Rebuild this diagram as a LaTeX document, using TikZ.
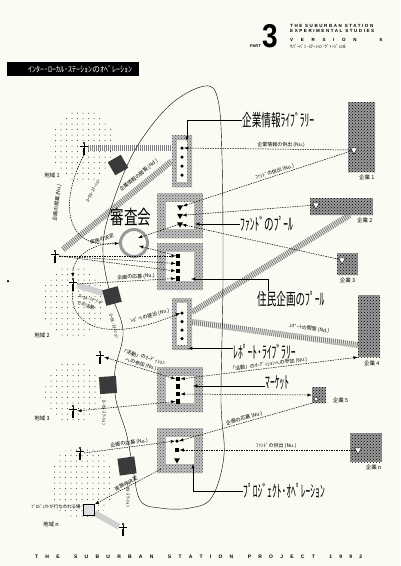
\documentclass[tikz,border=0pt]{standalone}
\usepackage{graphicx}
\usepackage{fontspec}
\setmainfont{Noto Sans CJK JP}
\newfontfamily\headfont{Liberation Sans}
\usetikzlibrary{shapes.geometric, arrows, positioning, patterns, calc}
\definecolor{paper}{HTML}{FBFAF3}
\definecolor{dgray}{HTML}{3A3A3A}
\definecolor{lgray}{HTML}{CFCFCF}
\newcommand{\cond}[1]{\scalebox{0.8}[1.4]{#1}}
\pgfdeclarelayer{back}
\pgfsetlayers{back,main}
\tikzstyle{frame} = [rectangle, inner sep=0pt, preaction={fill=black!25}, pattern=crosshatch dots, pattern color=black!70]
\tikzstyle{pool} = [frame, path picture={\fill[paper] ([shift={(9pt,9pt)}]path picture bounding box.south west) rectangle ([shift={(-9pt,-9pt)}]path picture bounding box.north east);}]
\tikzstyle{library} = [frame, path picture={\fill[paper] ([shift={(5pt,5pt)}]path picture bounding box.south west) rectangle ([shift={(-5pt,-5pt)}]path picture bounding box.north east);}]
\tikzstyle{firm} = [rectangle, inner sep=0pt, preaction={fill=black!40}, pattern=crosshatch dots, pattern color=black]
\tikzstyle{dot} = [circle, fill=black, inner sep=0pt, minimum size=3.5pt]
\tikzstyle{blk} = [rectangle, fill=black, inner sep=0pt, minimum size=4.5pt]
\tikzstyle{tri} = [regular polygon, regular polygon sides=3, shape border rotate=180, fill=black, inner sep=0pt, minimum size=7pt]
\tikzstyle{emblem} = [regular polygon, regular polygon sides=3, shape border rotate=180, fill=white, draw, thin, inner sep=0pt, minimum size=8pt]
\tikzstyle{station} = [rectangle, fill=dgray, inner sep=0pt, minimum size=15pt]
\tikzstyle{person} = [rectangle, inner sep=0pt, minimum width=8pt, minimum height=13pt, path picture={
  \fill ([yshift=-1.4pt]path picture bounding box.north) circle (1.1pt);
  \draw[line width=1pt] ([yshift=-2pt]path picture bounding box.north) -- (path picture bounding box.center);
  \draw[line width=0.6pt] ([yshift=-4.5pt]path picture bounding box.north west) -- ([yshift=-4.5pt]path picture bounding box.north east);
  \draw[line width=0.5pt] ([xshift=-0.6pt]path picture bounding box.center) -- ([xshift=-0.6pt]path picture bounding box.south);
  \draw[line width=0.5pt] ([xshift=0.6pt]path picture bounding box.center) -- ([xshift=0.6pt]path picture bounding box.south);}]
\tikzstyle{band} = [line width=6pt, draw=black!50, dash pattern=on 1pt off 1pt]
\tikzstyle{haze} = [line width=6pt, draw=lgray]
\tikzstyle{flow} = [line width=0.5pt, dash pattern=on 1.5pt off 1pt, ->, >=latex]
\tikzstyle{flow2} = [flow, <->]
\tikzstyle{leader} = [line width=0.5pt, ->, >=latex]
\tikzstyle{big} = [font=\fontsize{12}{12}\selectfont, inner sep=0pt]
\tikzstyle{small} = [font=\fontsize{5}{7.5}\selectfont, inner sep=1pt]
\tikzstyle{note} = [font=\fontsize{4.5}{7}\selectfont, inner sep=0.5pt]
\tikzstyle{tag} = [font=\fontsize{5.5}{6}\selectfont, inner sep=0.5pt]
\tikzstyle{headline} = [font=\headfont\bfseries\fontsize{4.5}{5}\selectfont\addfontfeature{LetterSpace=35}, inner sep=0pt]

\begin{document}
\begin{tikzpicture}[x=1pt, y=-1pt, align=center, node distance=2pt]
\begin{pgfonlayer}{back}
\fill[paper] (0,0) rectangle (400,566);
% regions
\foreach \cx/\cy/\rx/\ry in {83/146/33/36, 73/302/32/36, 73/392/28/31, 82/483/32/38} {
  \begin{scope}
    \clip (\cx,\cy) ellipse ({\rx pt} and {\ry pt});
    \foreach \i in {-7,...,7} \foreach \j in {-8,...,8}
      \fill[black!80] (\cx+\i*5.5, \cy+\j*5.5) circle (0.5pt);
  \end{scope}
}
\end{pgfonlayer}
\useasboundingbox (0,0) rectangle (400,566);

% header
\node (part) [font=\headfont\bfseries\fontsize{4}{4}\selectfont, anchor=base east, inner sep=0pt] at (261,47) {PART};
\node (num) [font=\headfont\bfseries\fontsize{33}{33}\selectfont, anchor=base west, inner sep=0pt] at (262,47) {\scalebox{0.85}[1]{3}};
\node (head1) [headline, anchor=base west] at (290,27) {THE SUBURBAN STATION};
\node (head2) [headline, anchor=base west] at (290,32.5) {EXPERIMENTAL STUDIES};
\node (head3) [headline, anchor=base west] at (290,41) {\hbox to 92pt{V\hfil E\hfil R\hfil S\hfil I\hfil O\hfil N\hfil\hfil\hfil 8}};
\node (head4) [font=\fontsize{4.6}{5}\selectfont, anchor=base west, inner sep=0pt] at (290,48) {ｻﾊﾞｰﾊﾞﾝ･ｽﾃｰｼｮﾝ･ｳﾞｧｰｼﾞｮﾝ8};
\node (title) [fill=black, text=white, anchor=west, inner ysep=3.5pt, inner xsep=0pt, font=\fontsize{8}{9}\selectfont] at (7,69) {\hspace{21pt}ｲﾝﾀｰ･ﾛｰｶﾙ･ｽﾃｰｼｮﾝのｵﾍﾟﾚｰｼｮﾝ\hspace{7pt}};
\node (foot) [font=\headfont\bfseries\fontsize{5}{5}\selectfont, inner sep=0pt, anchor=base west] at (35,558) {\hbox to 327pt{T\hfil H\hfil E\hfil\hfil S\hfil U\hfil B\hfil U\hfil R\hfil B\hfil A\hfil N\hfil\hfil S\hfil T\hfil A\hfil T\hfil I\hfil O\hfil N\hfil\hfil P\hfil R\hfil O\hfil J\hfil E\hfil C\hfil T\hfil\hfil 1\hfil 9\hfil 9\hfil 2}};

% station boundary
\draw[thin] plot[smooth cycle, tension=0.6] coordinates {(205,86) (218,100) (222,157) (223,280) (221,400) (224,455) (212,497) (190,508) (160,508) (140,500) (132,462) (126,432) (116,400) (115,370) (123,330) (108,285) (103,245) (112,205) (135,150) (170,105)};

% pools and libraries
\node (corp) [library, minimum width=20pt, minimum height=52pt] at (182,161) {};
\foreach \i/\y in {1/148,2/157,3/166,4/175} \node (corp\i) [dot] at (182,\y) {};
\node (fund) [pool, minimum width=46pt, minimum height=45pt] at (180,215.5) {};
\foreach \i/\y in {1/207,2/215.5,3/224} \node (fund\i) [tri] at (180,\y) {};
\node (plan) [pool, minimum width=46pt, minimum height=47pt] at (180,266.5) {};
\foreach \i/\y in {1/256,2/263.5,3/271,4/278.5} \node (plan\i) [blk] at (178,\y) {};
\node (report) [library, minimum width=20pt, minimum height=52pt] at (182,324) {};
\foreach \i/\y in {1/313,2/321.5,3/330,4/338.5} \node (report\i) [dot] at (182,\y) {};
\node (market) [pool, minimum width=46pt, minimum height=45pt] at (180,389.5) {};
\foreach \i/\y in {1/379,2/386.5,3/394,4/401.5} \node (market\i) [blk] at (178,\y) {};
\node (proj) [pool, minimum width=46pt, minimum height=45pt] at (180,450.5) {};
\node (proj1) [dot] at (177,441) {};
\node (proj2) [blk] at (177,450) {};
\node (proj3) [tri] at (177,460) {};

% firms
\node (firm1) [firm, minimum width=27pt, minimum height=70pt] at (361.5,137) {};
\node (firm1s) [emblem] at (354,150) {};
\node (firm1l) [tag, below=2pt of firm1.south east, anchor=north east] {企業 1};
\node (firm2) [firm, minimum width=63pt, minimum height=17pt] at (341.5,206.5) {};
\node (firm2s) [emblem] at (316,205) {};
\node (firm2l) [tag, below=2pt of firm2.south east, anchor=north east] {企業 2};
\node (firm3) [firm, minimum width=21pt, minimum height=22pt] at (347.5,264) {};
\node (firm3s) [emblem] at (342,260) {};
\node (firm3l) [tag, below=2pt of firm3] {企業 3};
\node (firm4) [firm, minimum width=22pt, minimum height=62pt] at (369,326) {};
\node (firm4l) [tag, below=3pt of firm4.south east, anchor=north east] {企業 4};
\node (firm5) [firm, minimum width=14pt, minimum height=16pt] at (319,395) {};
\node (firm5s) [circle, draw, fill=white, inner sep=0pt, minimum size=4pt] at (316,399) {};
\node (firm5l) [tag, right=6pt of firm5.south east, anchor=south west] {企業 5};
\node (firm6) [firm, minimum width=32pt, minimum height=29pt] at (366,447.5) {};
\node (firm6s) [emblem] at (358,450) {};
\node (firm6l) [tag, below=2pt of firm6.south east, anchor=north east] {企業 n};

% big labels
\node (corpl) [big, anchor=west] at (242,120) {\cond{企業情報ﾗｲﾌﾞﾗﾘｰ}};
\node (fundl) [big, anchor=west] at (240,224) {\cond{ﾌｧﾝﾄﾞのﾌﾟｰﾙ}};
\node (planl) [big, anchor=west] at (257,299) {\cond{住民企画のﾌﾟｰﾙ}};
\node (reportl) [big, anchor=west] at (233,352) {\cond{ﾚﾎﾟｰﾄ･ﾗｲﾌﾞﾗﾘｰ}};
\node (marketl) [big, anchor=west] at (265,382) {\cond{ﾏｰｹｯﾄ}};
\node (projl) [big, anchor=west] at (243,491) {\cond{ﾌﾟﾛｼﾞｪｸﾄ･ｵﾍﾟﾚｰｼｮﾝ}};
\node (panel) [font=\fontsize{15}{15}\selectfont, inner sep=0pt] at (131,217) {\scalebox{0.9}[1.3]{審査会}};
\draw[leader] (corpl.west) -| (187,141);
\draw[leader] (fundl.west) -- ++(-45,0);
\draw[leader] ([xshift=11pt]planl.north west) |- (191,279);
\draw[leader] ([yshift=-4pt]reportl.north west) -- ++(-45,0);
\draw[leader] ([yshift=-4pt]marketl.west) -- ++(-72,0);
\draw[leader] (projl.west) -| (193,464);

% stations, people, places
\node (st1) [station, rotate=30] at (118,165) {};
\node (st2) [station, rotate=15, minimum size=16pt] at (112,296) {};
\node (st3) [station, rotate=4, minimum size=17pt] at (108,385) {};
\node (stn) [station, rotate=8, minimum size=17pt] at (127,466) {};
\node (st1t) [note, rotate=62] at (93,191) {ﾛｰｶﾙ･ｽﾃｰｼｮﾝ};
\node (st2t) [note, rotate=-75] at (114,326) {ﾛｰｶﾙ･ｽﾃｰｼｮﾝ};
\node (st3t) [note, rotate=-90] at (104,413) {ﾛｰｶﾙ･ｽﾃｰｼｮﾝ};
\node (stnt) [note, rotate=-90] at (128,495) {ﾛｰｶﾙ･ｽﾃｰｼｮﾝ};
\node (st2act) [note, rotate=-15, align=left] at (90,303) {ﾛｰｶﾙ･ｽﾃｰｼｮﾝ\\での活動};
\node (p1) [person] at (84,148) {};
\node (p0) [person] at (55,256) {};
\node (p2) [person] at (73,284) {};
\node (p3a) [person] at (100,357) {};
\node (p3b) [person] at (73,411) {};
\node (pna) [person] at (80,453) {};
\node (pnb) [person] at (123,529) {};
\node (pin) [dot, minimum size=2.5pt] at (8,281) {};
\node (place) [rectangle, draw, thin, fill=black!12, minimum size=11pt] at (89,510) {};
\node (placel) [note, left=2pt of place, yshift=3pt] {ﾌﾟﾛｼﾞｪｸﾄが行なわれる場};
\node (area1) [tag] at (52,175) {地域 1};
\node (area2) [tag] at (42,335) {地域 2};
\node (area3) [tag] at (42,418) {地域 3};
\node (arean) [tag] at (51,524) {地域 n};
\node (ring) [circle, draw=black!40, line width=3pt, minimum size=27pt, inner sep=0pt] at (134,243) {};

% bands
\begin{pgfonlayer}{back}
\draw[band] (p1.east) -- (p1.east -| corp.west);
\draw[band, shorten <=5pt] (p0) -- (corp.west) node[small, pos=0.76, above=3pt, sloped] {企業情報の閲覧 (Nd.)};
\draw[band] ([yshift=12pt]report.east) -- ([xshift=8pt]firm2.south);
\draw[band] ([yshift=2pt]report.east) -- ([yshift=-19pt]firm4.west) node[small, pos=0.7, above=3pt, sloped] {ﾚﾎﾟｰﾄの閲覧 (Nd.)};
\draw[haze] (p2) -- (st2);
\draw[haze] (place) -- (pnb);
\end{pgfonlayer}

% flows
\draw[flow] (firm1s) -- (corp1) node[small, pos=0.42, above] {企業情報の供出 (Nu.)};
\draw[flow] (firm1s) -- (fund1) node[small, pos=0.45, above, sloped] {ﾌｧﾝﾄﾞの供出 (Nu.)};
\draw[flow] (firm2s) -- (fund2);
\draw[flow] (firm3s) -- (fund3);
\draw[flow] (fund3) -- ($(ring)+(4,-5)$);
\draw[flow] (plan1) -- ($(ring)+(5,3)$);
\draw[flow] (p1.south) .. controls (58,205) and (66,250) .. (ring.west);
\node (proposal) [small, rotate=83] at (57,203) {企画の提案 (Nu.)};
\node (decide1) [small, rotate=18] at (102,239) {実施の決定};
\draw[flow] (ring.west) .. controls (92,242) and (72,258) .. (p2.north);
\draw[flow] (p0.east) -- (plan1.west);
\draw[flow] (p0.east) -- (plan2.west);
\draw[flow] (p0.east) -- (plan3.west);
\draw[flow] (p2.east) -- (plan4.west) node[small, pos=0.6, above, sloped] {企画の応募 (Nu.)};
\draw[flow] (p2.south) .. controls (68,325) and (105,345) .. (report1.west);
\node (submit) [small, rotate=15] at (150,316) {ﾚﾎﾟｰﾄの提出 (Nu.)};
\draw[flow2] (p3a.east) -- (market1.west) node[small, midway, above, sloped] {「活動」のｵｰﾃﾞｨｼｮﾝ\\への参加 (Nu.)};
\draw[flow2] (market4.west) -- (p3b.east);
\draw[flow] (pna.east) -- (proj1.west) node[small, midway, above, sloped] {企画の応募 (Nu.)};
\draw[flow] ([shift={(4pt,4pt)}]proj.south west) -- (place.north east) node[small, midway, above, sloped] {実施の決定};
\draw[flow2] (firm4.south west) -- (market1.east) node[small, midway, above, sloped] {「活動」のｵｰﾃﾞｨｼｮﾝへの参加 (Nu.)};
\draw[flow2] (market3.east) -- (firm5.west);
\draw[flow] (firm5.south west) -- (proj1.east) node[small, midway, above, sloped] {企画の応募 (Nu.)};
\draw[flow] (firm6s) -- (proj2.east) node[small, pos=0.45, above] {ﾌｧﾝﾄﾞの供出 (Nu.)};
\end{tikzpicture}
\end{document}
